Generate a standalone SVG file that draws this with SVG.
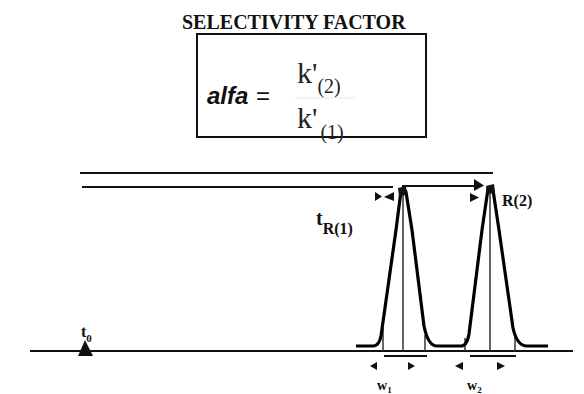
<svg xmlns="http://www.w3.org/2000/svg" width="584" height="394" viewBox="0 0 584 394">
<style>
.sb{font-family:"Liberation Serif","Times New Roman",serif;font-weight:bold;fill:#111}
.sr{font-family:"Liberation Serif","Times New Roman",serif;fill:#222}
.al{font-family:"Liberation Sans",Arial,sans-serif;fill:#111}
.ln{stroke:#111;stroke-width:2;fill:none}
.th{stroke:#333;stroke-width:1.5;fill:none}
.pk{stroke:#000;stroke-width:3.2;fill:none;stroke-linejoin:round}
.ah{fill:#111}
</style>
<rect width="584" height="394" fill="#fff"/>
<g id="title">
<text class="sb" x="182" y="29" font-size="20">SELECTIVITY FACTOR</text>
</g>
<g id="formula">
<rect x="197" y="34" width="229" height="103" fill="none" stroke="#111" stroke-width="2"/>
<text class="al" x="207" y="104" font-size="24"><tspan font-weight="bold" font-style="italic">alfa</tspan><tspan x="256">=</tspan></text>
<line x1="295" y1="98" x2="355" y2="98" stroke="#e6e6e6" stroke-width="1"/>
<text class="sr" x="297" y="83" font-size="30">k'<tspan font-size="20" dy="10">(2)</tspan></text>
<text class="sr" x="297" y="128" font-size="30">k'<tspan font-size="20" dy="11" dx="3">(1)</tspan></text>
</g>
<g id="connectors">
<line class="ln" x1="80" y1="173" x2="493" y2="173"/>
<line class="ln" x1="82" y1="187" x2="393" y2="187"/>
<line class="ln" x1="402" y1="186" x2="476" y2="186"/>
<path class="ah" d="M474,179 L484,185.5 L474,191 Z"/>
<path class="ah" d="M470,193 L479,197.5 L470,202 Z"/>
<path class="ah" d="M375,192 L382,196.5 L375,201 Z"/>
<path class="ah" d="M384,197 L394,192 L394,201 Z"/>
<line class="ln" x1="30" y1="351" x2="573" y2="351"/>
<line class="ln" x1="384" y1="356" x2="427" y2="356"/>
<line class="ln" x1="470" y1="356" x2="516" y2="356"/>
<path class="ah" d="M370,366 L377,362 L377,370 Z"/>
<path class="ah" d="M408,362 L415,366 L408,370 Z"/>
<path class="ah" d="M455,366 L463,362 L463,370 Z"/>
<path class="ah" d="M497,362 L505,366 L497,370 Z"/>
<line class="th" x1="403" y1="190" x2="403" y2="351"/>
<line class="th" x1="490" y1="188" x2="490" y2="351"/>
<line class="th" x1="383" y1="328" x2="383" y2="351"/>
<line class="th" x1="425" y1="335" x2="425" y2="351"/>
<line class="th" x1="465" y1="338" x2="465" y2="351"/>
<line class="th" x1="515" y1="333" x2="515" y2="351"/>
</g>
<g id="peaks">
<path class="pk" d="M356,346 L373,346 Q379,346 381,336 L396,230 L401,191 L404,189 L406,192 L412,230 L424,326 Q428,346 437,346 L461,346 Q467,346 469,334 L482,230 L488,189 L491,187 L493,190 L499,230 L513,328 Q517,346 527,346 L548,346"/>
<path class="ah" d="M398,188 L406,186 L407,195 L399,196 Z"/>
<path class="ah" d="M486,186 L494,184 L495,193 L487,194 Z"/>
</g>
<g id="t0">
<path class="ah" d="M85,340 L93,356 L78,356 Z"/>
<text class="sb" x="81" y="337" font-size="16">t<tspan font-size="11" dy="5">0</tspan></text>
</g>
<g id="tR1">
<text class="sb" x="316" y="225" font-size="20">t<tspan font-size="16" dy="9">R(1)</tspan></text>
</g>
<g id="tR2">
<text class="sb" x="502" y="206" font-size="16">R(2)</text>
</g>
<g id="w1">
<text class="sb" x="377" y="390" font-size="14">w<tspan font-size="9" dy="3">1</tspan></text>
</g>
<g id="w2">
<text class="sb" x="467" y="390" font-size="14">w<tspan font-size="9" dy="3">2</tspan></text>
</g>
</svg>
